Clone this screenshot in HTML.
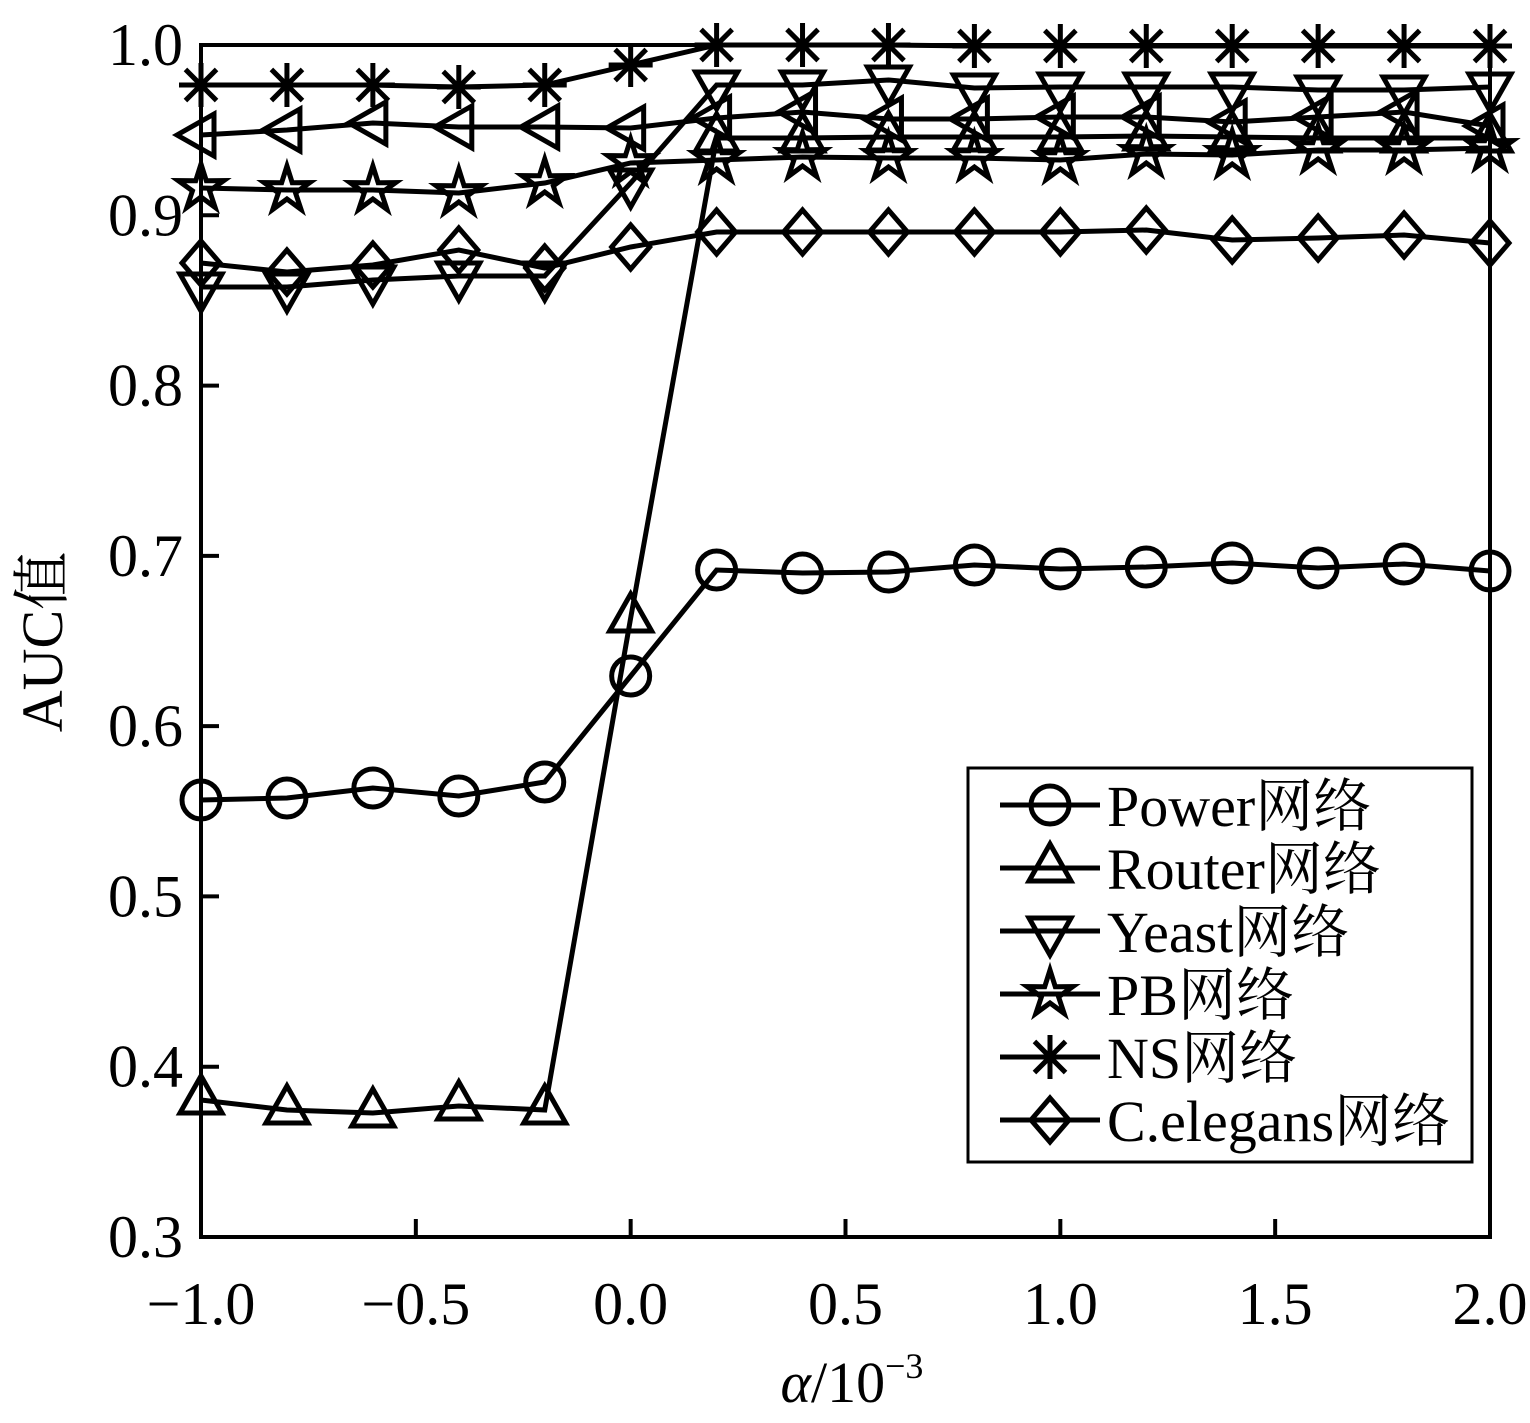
<!DOCTYPE html>
<html><head><meta charset="utf-8"><style>body{margin:0;background:#fff}</style></head>
<body>
<svg id="s" width="1530" height="1418" xmlns="http://www.w3.org/2000/svg" font-family="Liberation Serif, Noto Serif CJK SC, serif">
<g stroke="#000" stroke-width="4" fill="none">
<rect x="201" y="45" width="1289" height="1192"/>
</g>
<g id="ticks" stroke="#000" stroke-width="4"></g>
<g font-size="60" text-anchor="end" id="yl"></g>
<g font-size="60" text-anchor="middle" id="xl"></g>
<text x="62" y="642" font-size="58" text-anchor="middle" transform="rotate(-90 62 642)">AUC值</text>
<text x="852" y="1402" font-size="58" text-anchor="middle"><tspan font-style="italic">α</tspan>/10<tspan font-size="36" dy="-24">−3</tspan></text>
<g id="series" stroke="#000" stroke-width="5" fill="none"></g>
<rect x="968" y="768" width="504" height="394" fill="#fff" stroke="#000" stroke-width="3"/>
<g id="leg" stroke="#000" stroke-width="5" fill="none"></g>
<g font-size="58" id="legt"></g>
</svg>
<script>
const NS="http://www.w3.org/2000/svg";
function el(p,t,a,txt){const e=document.createElementNS(NS,t);for(const k in a)e.setAttribute(k,a[k]);if(txt)e.textContent=txt;document.getElementById(p).appendChild(e);return e;}
const X=v=>201+(v+1)*1289/3, Y=v=>1237-(v-0.3)*1192/0.7;
for(let i=0;i<=6;i++){const v=-1+i*0.5,x=X(v);el('ticks','line',{x1:x,y1:1237,x2:x,y2:1219});el('xl','text',{x:x,y:1324},(v<0?'−':'')+Math.abs(v).toFixed(1));}
for(let i=0;i<=7;i++){const v=0.3+i*0.1,y=Y(v);el('ticks','line',{x1:201,y1:y,x2:219,y2:y});el('yl','text',{x:183,y:y+20},v.toFixed(1));}
const xs=[];for(let i=0;i<16;i++)xs.push(X(-1+i*0.2));
function mk(g,t,x,y){
 if(t=='o')el(g,'circle',{cx:x,cy:y,r:19});
 if(t=='^')el(g,'polygon',{points:`${x},${y-24} ${x-21},${y+13} ${x+21},${y+13}`});
 if(t=='v')el(g,'polygon',{points:`${x},${y+24} ${x-21},${y-13} ${x+21},${y-13}`});
 if(t=='<')el(g,'polygon',{points:`${x-24},${y} ${x+13},${y-21} ${x+13},${y+21}`});
 if(t=='d')el(g,'polygon',{points:`${x},${y-22} ${x+19},${y} ${x},${y+22} ${x-19},${y}`});
 if(t=='*'){let p='';for(let i=0;i<10;i++){const r=i%2?9:24,a=-Math.PI/2+i*Math.PI/5;p+=(x+r*Math.cos(a))+','+(y+r*Math.sin(a))+' ';}el(g,'polygon',{points:p});}
 if(t=='x'){for(let i=0;i<4;i++){const a=i*Math.PI/4,dx=22*Math.cos(a),dy=22*Math.sin(a);el(g,'line',{x1:x-dx,y1:y-dy,x2:x+dx,y2:y+dy});}}
}
const S=[
['o',[800,798,788,796,782,676,570,573,572,565,569,567,563,568,564,571]],
['^',[1100,1110,1113,1106,1110,618,138,138,137,137,137,136,137,138,138,138]],
['v',[287,287,280,276,276,183,85,85,80,88,87,87,87,90,90,87]],
['<',[135,130,123,127,127,128,118,112,119,119,117,117,122,117,112,126]],
['*',[188,190,190,193,183,163,160,157,158,158,160,154,155,150,150,148]],
['x',[85,85,85,87,85,65,45,45,45,46,46,46,46,46,46,46]],
['d',[263,272,265,250,268,247,232,232,232,232,232,230,240,238,235,243]]];
for(const [t,ys] of S){el('series','polyline',{points:xs.map((x,i)=>x+','+ys[i]).join(' ')});xs.forEach((x,i)=>mk('series',t,x,ys[i]));}
const L=[['o','Power网络'],['^','Router网络'],['v','Yeast网络'],['*','PB网络'],['x','NS网络'],['d','C.elegans网络']];
L.forEach(([t,n],i)=>{const y=805+i*63;el('leg','line',{x1:1000,y1:y,x2:1100,y2:y});mk('leg',t,1050,y);el('legt','text',{x:1107,y:y+21},n);});
</script>
</body></html>
